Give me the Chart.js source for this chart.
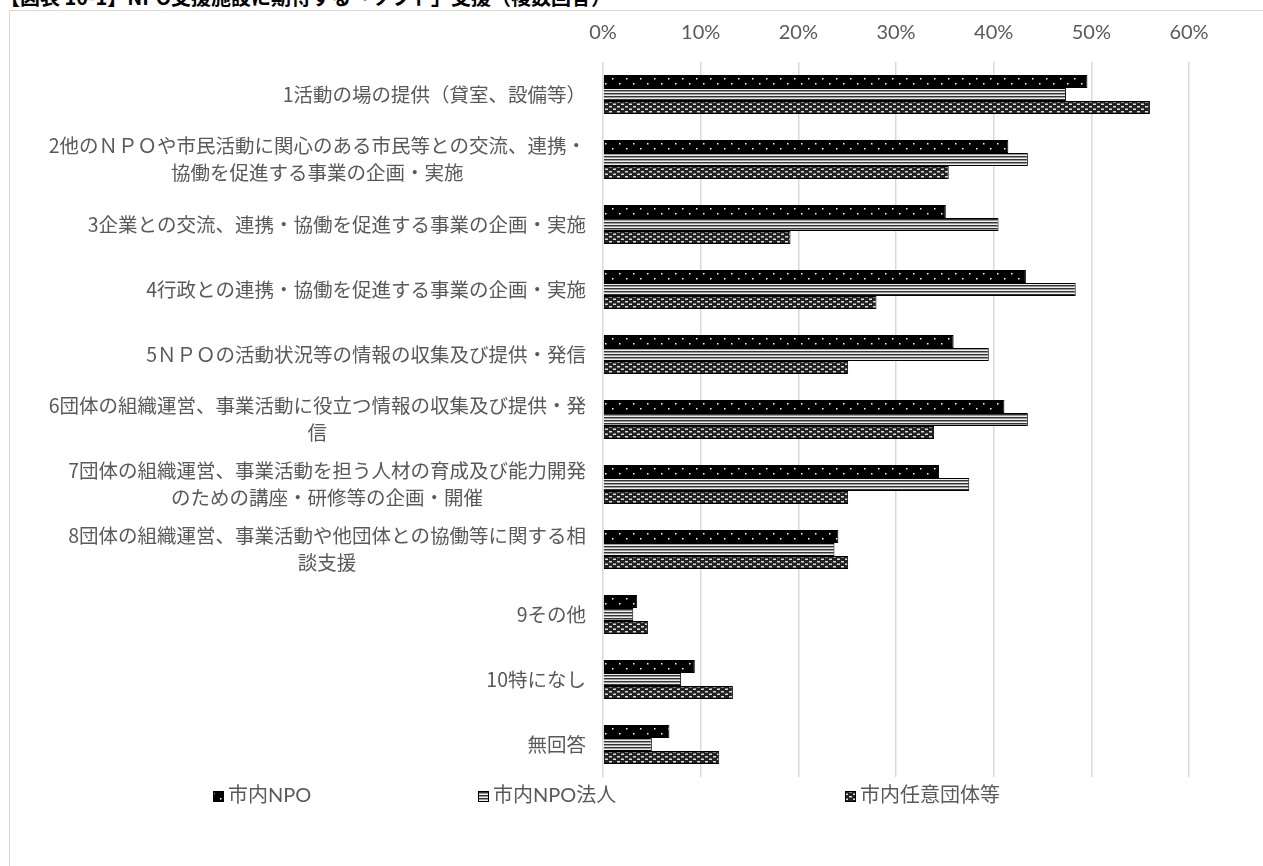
<!DOCTYPE html>
<html lang="ja">
<head>
<meta charset="utf-8">
<script src="https://cdn.jsdelivr.net/npm/chart.js@4.4.1/dist/chart.umd.min.js"></script>
<style>
  html, body { margin: 0; padding: 0; background: #fff; overflow: hidden; }
  #title { position: absolute; left: 0; top: -18px; font: bold 20px "Noto Sans CJK JP"; color: #000; white-space: nowrap; }
  #frame { position: absolute; left: 9px; top: 10px; width: 1300px; height: 900px; border: 1px solid #d9d9d9; background: #fff; }
  #wrap { position: absolute; left: 0; top: 0; width: 1263px; height: 866px; }
</style>
</head>
<body>
<div id="title">【図表 10-1】NPO支援施設に期待する「ソフト」支援（複数回答）</div>
<div id="frame"></div>
<div id="wrap"><canvas id="chart"></canvas></div>
<script>
const categories = [
  ["1活動の場の提供（貸室、設備等）"],
  ["2他のＮＰＯや市民活動に関心のある市民等との交流、連携・", "協働を促進する事業の企画・実施"],
  ["3企業との交流、連携・協働を促進する事業の企画・実施"],
  ["4行政との連携・協働を促進する事業の企画・実施"],
  ["5ＮＰＯの活動状況等の情報の収集及び提供・発信"],
  ["6団体の組織運営、事業活動に役立つ情報の収集及び提供・発", "信"],
  ["7団体の組織運営、事業活動を担う人材の育成及び能力開発", "のための講座・研修等の企画・開催"],
  ["8団体の組織運営、事業活動や他団体との協働等に関する相", "談支援"],
  ["9その他"],
  ["10特になし"],
  ["無回答"]
];
const seriesNames = ["市内NPO", "市内NPO法人", "市内任意団体等"];
const npoValues = [49.6, 41.5, 35.1, 43.3, 35.9, 41.1, 34.4, 24.1, 3.5, 9.4, 6.8];
const houjinValues = [47.4, 43.5, 40.5, 48.4, 39.5, 43.5, 37.5, 23.7, 3.1, 8.0, 5.0];
const niniValues = [56.0, 35.4, 19.2, 28.0, 25.1, 33.9, 25.1, 25.1, 4.6, 13.3, 11.9];
const xTicks = [0, 10, 20, 30, 40, 50, 60];

// fill patterns like the Excel original
const makePattern = (kind) => {
  const c = document.createElement("canvas");
  const g = c.getContext("2d");
  if (kind === "dots") {
    c.width = 14; c.height = 10;
    g.fillStyle = "#000"; g.fillRect(0, 0, 14, 10);
    g.fillStyle = "#fff";
    g.fillRect(3, 3, 1.5, 1.5);
    g.fillRect(10, 8, 1.5, 1.5);
  } else if (kind === "stripes") {
    c.width = 4; c.height = 3;
    g.fillStyle = "#eee"; g.fillRect(0, 0, 4, 3);
    g.fillStyle = "#333"; g.fillRect(0, 0, 4, 1);
    g.fillStyle = "#999"; g.fillRect(0, 1, 4, 1);
  } else {
    c.width = 8; c.height = 5;
    g.fillStyle = "#222"; g.fillRect(0, 0, 8, 5);
    g.fillStyle = "#ddd";
    g.fillRect(1, 1, 3, 1.5);
    g.fillRect(5, 3.5, 3, 1.5);
  }
  return g.createPattern(c, "repeat");
};

const patterns = [makePattern("dots"), makePattern("stripes"), makePattern("checks")];

const labelFont = '19.5px "Noto Sans CJK JP"';
const labelColor = "#595959";

const yLabelPlugin = {
  id: "yLabels",
  afterDraw(chart) {
    const { ctx } = chart;
    const yScale = chart.scales.y;
    const rightEdge = 586;
    const lineH = 27;
    ctx.save();
    ctx.font = labelFont;
    ctx.fillStyle = labelColor;
    ctx.textBaseline = "middle";
    categories.forEach((lines, i) => {
      const cy = yScale.getPixelForValue(i);
      const maxW = Math.max(...lines.map((l) => ctx.measureText(l).width));
      const y0 = cy - ((lines.length - 1) * lineH) / 2;
      lines.forEach((l, k) => {
        if (lines.length === 1) {
          ctx.textAlign = "right";
          ctx.fillText(l, rightEdge, y0 + k * lineH);
        } else {
          ctx.textAlign = "center";
          ctx.fillText(l, rightEdge - maxW / 2, y0 + k * lineH);
        }
      });
    });
    ctx.restore();
  }
};

const legendPlugin = {
  id: "fixedLegend",
  afterDraw(chart) {
    const { ctx } = chart;
    const xs = [213, 478, 845];
    const y = 796;
    ctx.save();
    ctx.font = '20px Lato, "Noto Sans CJK JP"';
    ctx.textBaseline = "middle";
    ctx.textAlign = "left";
    seriesNames.forEach((name, i) => {
      ctx.fillStyle = patterns[i];
      ctx.fillRect(xs[i], y - 5, 11, 11);
      ctx.strokeStyle = "#000";
      ctx.lineWidth = 1;
      ctx.strokeRect(xs[i] + 0.5, y - 4.5, 10, 10);
      ctx.fillStyle = labelColor;
      ctx.fillText(name, xs[i] + 15, y);
    });
    ctx.restore();
  }
};

const allValues = [npoValues, houjinValues, niniValues];

new Chart(document.getElementById("chart"), {
  type: "bar",
  data: {
    labels: categories.map((l) => l.join("")),
    datasets: seriesNames.map((name, i) => ({
      label: name,
      data: allValues[i],
      backgroundColor: patterns[i],
      borderColor: "#000",
      borderWidth: 1,
      barPercentage: 1.0,
      categoryPercentage: 0.6
    }))
  },
  options: {
    indexAxis: "y",
    responsive: true,
    maintainAspectRatio: false,
    animation: false,
    layout: { padding: { left: 603, right: 74, top: 0, bottom: 89 } },
    plugins: {
      legend: { display: false },
      tooltip: { enabled: false }
    },
    scales: {
      x: {
        position: "top",
        min: 0,
        max: 60,
        afterBuildTicks: (s) => { s.ticks = xTicks.map((v) => ({ value: v })); },
        afterFit: (s) => { s.height = 62; },
        grid: { color: "#d9d9d9", lineWidth: 1.5, drawTicks: false },
        border: { display: false },
        ticks: {
          padding: 17,
          color: labelColor,
          font: { family: "Lato", size: 20 },
          callback: (v) => v + "%"
        }
      },
      y: {
        afterFit: (s) => { s.width = 0; },
        grid: { display: false },
        border: { display: false },
        ticks: { display: false }
      }
    }
  },
  plugins: [yLabelPlugin, legendPlugin]
});
</script>
</body>
</html>
